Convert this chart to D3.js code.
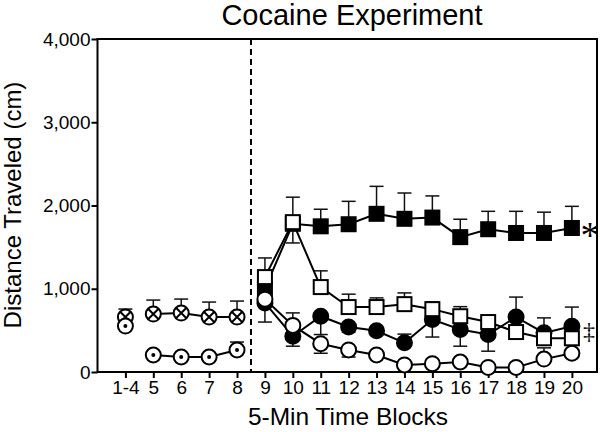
<!DOCTYPE html>
<html>
<head>
<meta charset="utf-8">
<script src="https://cdn.jsdelivr.net/npm/d3@7"></script>
<style>
  body { margin: 0; background: #fff; }
  text { font-family: "Liberation Sans", Arial, sans-serif; fill: #000; }
</style>
</head>
<body>
<div id="vis"></div>
<script>
// x tick labels (habituation blocks, then cocaine blocks)
const xLabels = ["1-4", "5", "6", "7", "8", "9", "10", "11", "12", "13", "14", "15", "16", "17", "18", "19", "20"];
const yTicks = [0, 1000, 2000, 3000, 4000];

// habituation phase (blocks 1-4 .. 8)
const crossVals = [660, 696, 708, 660, 660];
const crossErr = [96, 168, 168, 180, 192];
const dotVals = [552, 204, 180, 180, 264];
const dotErr = [40, 40, 40, 40, 96];

// cocaine phase (blocks 9 .. 20), signed error: + drawn up, - drawn down
const fillSqVals = [1000, 1780, 1750, 1775, 1900, 1840, 1855, 1620, 1715, 1670, 1670, 1730];
const fillSqErr = [180, 320, 205, 275, 330, 310, 260, 215, 215, 260, 250, 260];
const fillCircVals = [830, 430, 670, 540, 495, 350, 630, 510, 450, 660, 470, 550];
const fillCircErr = [-230, -120, -220, -60, -50, 105, -210, -200, -200, 240, 180, 230];
const openCircVals = [875, 560, 340, 265, 205, 85, 100, 120, 55, 55, 155, 225];
const openCircErr = [40, 150, -115, -85, 40, 40, 40, 40, 40, 40, 135, 40];
const openSqVals = [1140, 1800, 1020, 780, 780, 815, 755, 670, 600, 480, 405, 405];
const openSqErr = [230, -250, 195, 155, 110, 135, 85, 115, 60, 60, 60, 60];

const W = 600, H = 432;
const svg = d3.select("#vis").append("svg")
    .attr("width", W)
    .attr("height", H);

const x = d3.scaleLinear().domain([0, 17.9]).range([97.5, 597]);
const y = d3.scaleLinear().domain([0, 4000]).range([372, 39]);

// turns value arrays into point objects; first index = position on x
function pts(vals, errs, start) {
  return vals.map((v, i) => ({ x: start + i, v: v, e: errs[i] }));
}

const series = [
  { data: pts(crossVals, crossErr, 1), shape: "cross", skipFirst: true },
  { data: pts(dotVals, dotErr, 1), shape: "dot", skipFirst: true },
  { data: pts(fillSqVals, fillSqErr, 6), shape: "square", fill: "#000" },
  { data: pts(fillCircVals, fillCircErr, 6), shape: "circle", fill: "#000" },
  { data: pts(openCircVals, openCircErr, 6), shape: "circle", fill: "#fff" },
  { data: pts(openSqVals, openSqErr, 6), shape: "square", fill: "#fff" }
];

// axes
svg.append("g")
    .attr("transform", "translate(0," + y(0) + ")")
    .call(d3.axisBottom(x)
      .tickValues(d3.range(1, 18))
      .tickFormat((d) => xLabels[d - 1])
      .tickSize(6)
      .tickPadding(3))
    .call((g) => g.select(".domain").remove())
    .call((g) => g.selectAll("line").attr("stroke", "#000").attr("stroke-width", 2))
    .call((g) => g.selectAll("text").style("font-size", "19px").attr("font-family", null));

svg.append("g")
    .attr("transform", "translate(" + x(0) + ",0)")
    .call(d3.axisLeft(y)
      .tickValues(yTicks)
      .tickFormat(d3.format(","))
      .tickSize(6)
      .tickPadding(1))
    .call((g) => g.select(".domain").remove())
    .call((g) => g.selectAll("line").attr("stroke", "#000").attr("stroke-width", 2))
    .call((g) => g.selectAll("text").style("font-size", "19px").attr("font-family", null));

// frame
svg.append("rect")
    .attr("x", x(0))
    .attr("y", y(4000))
    .attr("width", x(17.9) - x(0))
    .attr("height", y(0) - y(4000))
    .attr("fill", "none")
    .attr("stroke", "#000")
    .attr("stroke-width", 2);

// dashed separator between habituation and cocaine
svg.append("line")
    .attr("x1", x(5.5)).attr("x2", x(5.5))
    .attr("y1", y(4000)).attr("y2", y(0))
    .attr("stroke", "#000")
    .attr("stroke-width", 2)
    .attr("stroke-dasharray", "6,4");

const line = d3.line()
    .x((d) => x(d.x))
    .y((d) => y(d.v));

const r = 7.5, half = 7;

series.forEach((s) => {
  const g = svg.append("g");

  // error bars
  const eb = g.selectAll(".err")
      .data(s.data)
      .enter().append("g")
      .attr("stroke", "#111")
      .attr("stroke-width", 1.5);
  eb.append("line")
      .attr("x1", (d) => x(d.x)).attr("x2", (d) => x(d.x))
      .attr("y1", (d) => y(d.v)).attr("y2", (d) => y(d.v + d.e));
  eb.append("line")
      .attr("x1", (d) => x(d.x) - 7).attr("x2", (d) => x(d.x) + 7)
      .attr("y1", (d) => y(d.v + d.e)).attr("y2", (d) => y(d.v + d.e));

  g.append("path")
      .datum(s.skipFirst ? s.data.slice(1) : s.data)
      .attr("d", line)
      .attr("fill", "none")
      .attr("stroke", "#000")
      .attr("stroke-width", 2);

  const m = g.selectAll(".pt")
      .data(s.data)
      .enter().append("g")
      .attr("transform", (d) => "translate(" + x(d.x) + "," + y(d.v) + ")");

  if (s.shape === "square") {
    m.append("rect")
        .attr("x", -half).attr("y", -half)
        .attr("width", half * 2).attr("height", half * 2)
        .attr("fill", s.fill)
        .attr("stroke", "#000")
        .attr("stroke-width", 2);
  } else {
    m.append("circle")
        .attr("r", r)
        .attr("fill", s.fill || "#fff")
        .attr("stroke", "#000")
        .attr("stroke-width", 2);
  }
  if (s.shape === "cross") {
    const k = r * 0.7;
    m.append("path")
        .attr("d", "M" + (-k) + "," + (-k) + "L" + k + "," + k + "M" + (-k) + "," + k + "L" + k + "," + (-k))
        .attr("stroke", "#000")
        .attr("stroke-width", 2);
  }
  if (s.shape === "dot") {
    m.append("circle").attr("r", 2).attr("fill", "#000");
  }
});

// significance marks
svg.append("text")
    .attr("x", x(17) + 18)
    .attr("y", y(fillSqVals[11]) + 20)
    .attr("text-anchor", "middle")
    .style("font-family", "'Liberation Serif', serif")
    .style("font-size", "38px")
    .text("*");

svg.append("text")
    .attr("x", x(17) + 17)
    .attr("y", 339)
    .attr("text-anchor", "middle")
    .style("font-family", "'Liberation Serif', serif")
    .style("font-size", "24px")
    .text("\u2021");

// titles
svg.append("text")
    .attr("x", 352)
    .attr("y", 25)
    .attr("text-anchor", "middle")
    .style("font-size", "29px")
    .text("Cocaine Experiment");

svg.append("text")
    .attr("x", 348)
    .attr("y", 425)
    .attr("text-anchor", "middle")
    .style("font-size", "24.5px")
    .text("5-Min Time Blocks");

svg.append("text")
    .attr("transform", "translate(21,205) rotate(-90)")
    .attr("text-anchor", "middle")
    .style("font-size", "24px")
    .text("Distance Traveled (cm)");
</script>
</body>
</html>
